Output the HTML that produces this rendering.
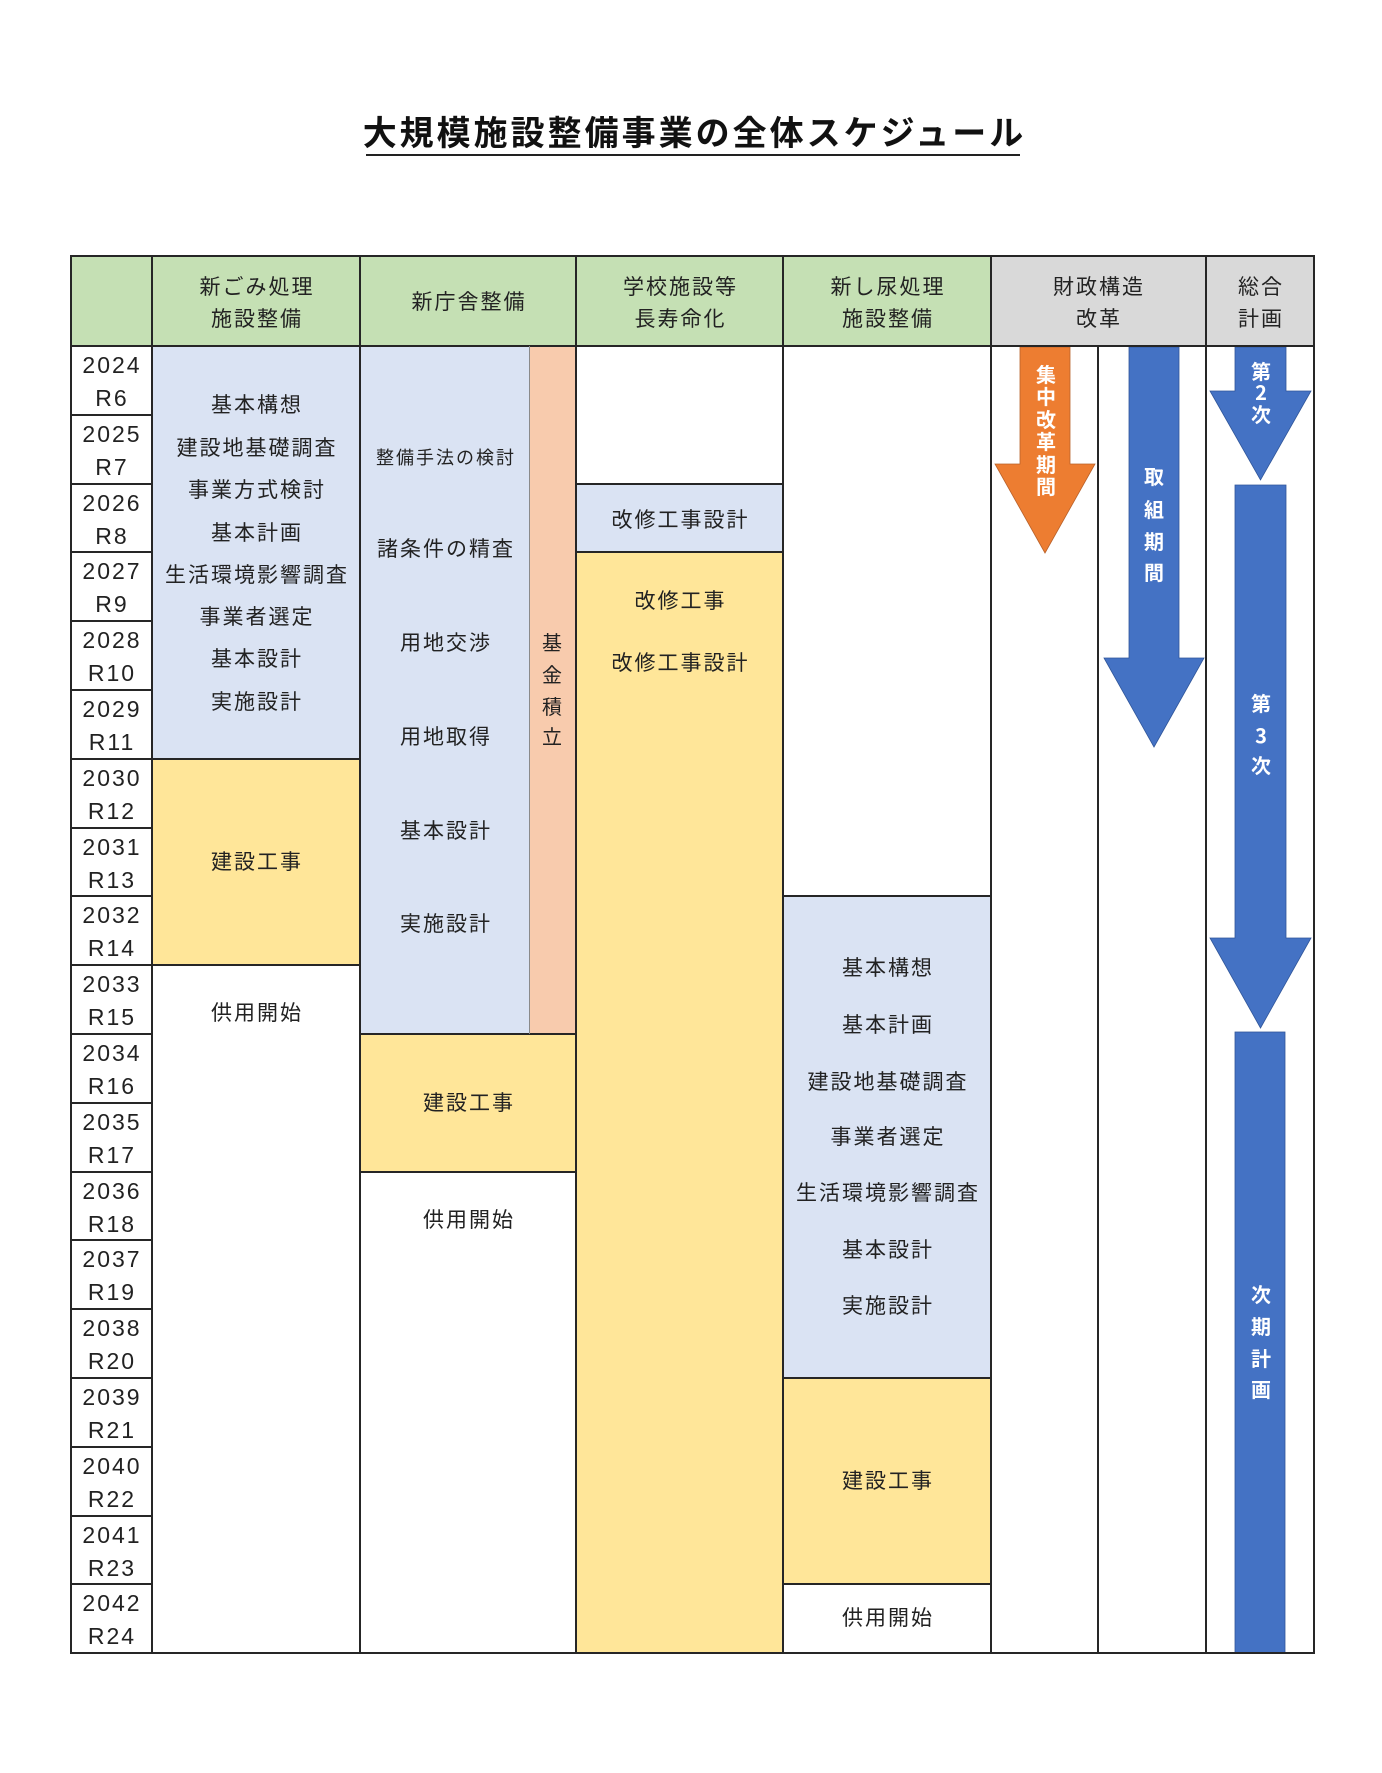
<!DOCTYPE html>
<html><head><meta charset="utf-8">
<style>
html,body{margin:0;padding:0;background:#fff;}
body{width:1382px;height:1773px;position:relative;overflow:hidden;font-family:"Liberation Sans","Noto Sans CJK JP",sans-serif;color:#222;}
.f{position:absolute;}
.h{position:absolute;height:2px;background:#262626;}
.v{position:absolute;width:2px;background:#262626;}
.t{position:absolute;height:30px;line-height:30px;text-align:center;white-space:nowrap;font-size:21px;letter-spacing:2px;padding-left:2px;box-sizing:border-box;font-family:"Noto Sans CJK JP",sans-serif;}
.y{position:absolute;left:71px;width:80px;height:30px;line-height:30px;text-align:center;font-size:23px;letter-spacing:2px;padding-left:2px;box-sizing:border-box;font-family:"Liberation Sans",sans-serif;color:#222;}
.c{position:absolute;width:30px;height:30px;line-height:30px;text-align:center;font-size:20px;font-family:"Noto Sans CJK JP",sans-serif;}
.w{color:#fff;font-weight:bold;}
</style></head><body>

<!-- Title -->
<div class="t" style="left:346px;width:694px;top:109px;height:44px;line-height:44px;font-size:34px;letter-spacing:3px;padding-left:3px;font-weight:bold;color:#111;">大規模施設整備事業の全体スケジュール</div>
<div class="f" style="left:366px;top:154px;width:654px;height:2px;background:#222;"></div>

<!-- Header fills -->
<div class="f" style="left:70px;top:256px;width:921px;height:90px;background:#c5e0b4;"></div>
<div class="f" style="left:991px;top:256px;width:323px;height:90px;background:#d9d9d9;"></div>

<!-- Body fills -->
<div class="f" style="left:152px;top:346px;width:208px;height:413px;background:#dae3f3;"></div>
<div class="f" style="left:152px;top:759px;width:208px;height:206px;background:#ffe699;"></div>
<div class="f" style="left:360px;top:346px;width:170px;height:688px;background:#dae3f3;"></div>
<div class="f" style="left:530px;top:346px;width:46px;height:688px;background:#f8cbad;"></div>
<div class="f" style="left:360px;top:1034px;width:216px;height:138px;background:#ffe699;"></div>
<div class="f" style="left:576px;top:484px;width:207px;height:68px;background:#dae3f3;"></div>
<div class="f" style="left:576px;top:552px;width:207px;height:1101px;background:#ffe699;"></div>
<div class="f" style="left:783px;top:896px;width:208px;height:482px;background:#dae3f3;"></div>
<div class="f" style="left:783px;top:1378px;width:208px;height:206px;background:#ffe699;"></div>

<!-- Arrows -->
<svg class="f" style="left:0;top:0;" width="1382" height="1773" viewBox="0 0 1382 1773">
<polygon points="1020,347 1070,347 1070,464 1095,464 1045,553 995,464 1020,464" fill="#ed7d31" stroke="#b8612a" stroke-width="0.8"/>
<polygon points="1129,347 1179,347 1179,658 1204,658 1154,747 1104,658 1129,658" fill="#4472c4" stroke="#30569a" stroke-width="0.8"/>
<polygon points="1235,347 1286,347 1286,391 1311,391 1260.5,480 1210,391 1235,391" fill="#4472c4" stroke="#30569a" stroke-width="0.8"/>
<polygon points="1235,485 1286,485 1286,938 1311,938 1260.5,1028 1210,938 1235,938" fill="#4472c4" stroke="#30569a" stroke-width="0.8"/>
<rect x="1235" y="1032" width="50" height="621" fill="#4472c4" stroke="#30569a" stroke-width="0.8"/>
</svg>

<!-- Lines: outer / header -->
<div class="h" style="left:70px;top:255px;width:1245px;"></div>
<div class="h" style="left:70px;top:345px;width:1245px;"></div>
<div class="h" style="left:70px;top:1652px;width:1245px;"></div>
<div class="v" style="left:69.5px;top:255px;height:1399px;"></div>
<div class="v" style="left:150.6px;top:255px;height:1399px;"></div>
<div class="v" style="left:358.6px;top:255px;height:1399px;"></div>
<div class="v" style="left:574.6px;top:255px;height:1399px;"></div>
<div class="v" style="left:781.6px;top:255px;height:1399px;"></div>
<div class="v" style="left:989.6px;top:255px;height:1399px;"></div>
<div class="v" style="left:1097px;top:346px;height:1307px;width:1.5px;"></div>
<div class="v" style="left:1204.7px;top:255px;height:1399px;"></div>
<div class="v" style="left:1313px;top:255px;height:1399px;"></div>

<!-- year row lines -->
<div class="h" style="left:70px;top:413.8px;width:82px;"></div>
<div class="h" style="left:70px;top:482.6px;width:82px;"></div>
<div class="h" style="left:70px;top:551.4px;width:82px;"></div>
<div class="h" style="left:70px;top:620.2px;width:82px;"></div>
<div class="h" style="left:70px;top:689px;width:82px;"></div>
<div class="h" style="left:70px;top:757.8px;width:82px;"></div>
<div class="h" style="left:70px;top:826.6px;width:82px;"></div>
<div class="h" style="left:70px;top:895.4px;width:82px;"></div>
<div class="h" style="left:70px;top:964.2px;width:82px;"></div>
<div class="h" style="left:70px;top:1033px;width:82px;"></div>
<div class="h" style="left:70px;top:1101.8px;width:82px;"></div>
<div class="h" style="left:70px;top:1170.6px;width:82px;"></div>
<div class="h" style="left:70px;top:1239.4px;width:82px;"></div>
<div class="h" style="left:70px;top:1308.2px;width:82px;"></div>
<div class="h" style="left:70px;top:1377px;width:82px;"></div>
<div class="h" style="left:70px;top:1445.8px;width:82px;"></div>
<div class="h" style="left:70px;top:1514.6px;width:82px;"></div>
<div class="h" style="left:70px;top:1583.4px;width:82px;"></div>

<!-- block lines -->
<div class="h" style="left:151px;top:757.8px;width:209px;"></div>
<div class="h" style="left:151px;top:964.2px;width:209px;"></div>
<div class="h" style="left:359px;top:1033px;width:217px;"></div>
<div class="h" style="left:359px;top:1170.6px;width:217px;"></div>
<div class="f" style="left:528.5px;top:346px;width:1.5px;height:688px;background:#8a8a8a;"></div>
<div class="h" style="left:575px;top:482.6px;width:208px;"></div>
<div class="h" style="left:575px;top:551.4px;width:208px;"></div>
<div class="h" style="left:782px;top:895.4px;width:209px;"></div>
<div class="h" style="left:782px;top:1377px;width:209px;"></div>
<div class="h" style="left:782px;top:1583.4px;width:209px;"></div>

<!-- Header text -->
<div class="t" style="left:152px;width:208px;top:271px;">新ごみ処理</div>
<div class="t" style="left:152px;width:208px;top:303px;">施設整備</div>
<div class="t" style="left:360px;width:216px;top:286px;">新庁舎整備</div>
<div class="t" style="left:576px;width:207px;top:271px;">学校施設等</div>
<div class="t" style="left:576px;width:207px;top:303px;">長寿命化</div>
<div class="t" style="left:783px;width:208px;top:271px;">新し尿処理</div>
<div class="t" style="left:783px;width:208px;top:303px;">施設整備</div>
<div class="t" style="left:991px;width:214px;top:271px;">財政構造</div>
<div class="t" style="left:991px;width:214px;top:303px;">改革</div>
<div class="t" style="left:1206px;width:108px;top:271px;">総合</div>
<div class="t" style="left:1206px;width:108px;top:303px;">計画</div>

<!-- Years -->
<div class="y" style="top:350px;">2024</div><div class="y" style="top:383px;">R6</div>
<div class="y" style="top:418.8px;">2025</div><div class="y" style="top:451.8px;">R7</div>
<div class="y" style="top:487.6px;">2026</div><div class="y" style="top:520.6px;">R8</div>
<div class="y" style="top:556.4px;">2027</div><div class="y" style="top:589.4px;">R9</div>
<div class="y" style="top:625.2px;">2028</div><div class="y" style="top:658.2px;">R10</div>
<div class="y" style="top:694px;">2029</div><div class="y" style="top:727px;">R11</div>
<div class="y" style="top:762.8px;">2030</div><div class="y" style="top:795.8px;">R12</div>
<div class="y" style="top:831.6px;">2031</div><div class="y" style="top:864.6px;">R13</div>
<div class="y" style="top:900.4px;">2032</div><div class="y" style="top:933.4px;">R14</div>
<div class="y" style="top:969.2px;">2033</div><div class="y" style="top:1002.2px;">R15</div>
<div class="y" style="top:1038px;">2034</div><div class="y" style="top:1071px;">R16</div>
<div class="y" style="top:1106.8px;">2035</div><div class="y" style="top:1139.8px;">R17</div>
<div class="y" style="top:1175.6px;">2036</div><div class="y" style="top:1208.6px;">R18</div>
<div class="y" style="top:1244.4px;">2037</div><div class="y" style="top:1277.4px;">R19</div>
<div class="y" style="top:1313.2px;">2038</div><div class="y" style="top:1346.2px;">R20</div>
<div class="y" style="top:1382px;">2039</div><div class="y" style="top:1415px;">R21</div>
<div class="y" style="top:1450.8px;">2040</div><div class="y" style="top:1483.8px;">R22</div>
<div class="y" style="top:1519.6px;">2041</div><div class="y" style="top:1552.6px;">R23</div>
<div class="y" style="top:1588.4px;">2042</div><div class="y" style="top:1621.4px;">R24</div>

<!-- Column 1 -->
<div class="t" style="left:152px;width:208px;top:389px;">基本構想</div>
<div class="t" style="left:152px;width:208px;top:432px;">建設地基礎調査</div>
<div class="t" style="left:152px;width:208px;top:474px;">事業方式検討</div>
<div class="t" style="left:152px;width:208px;top:516.5px;">基本計画</div>
<div class="t" style="left:152px;width:208px;top:559px;">生活環境影響調査</div>
<div class="t" style="left:152px;width:208px;top:601px;">事業者選定</div>
<div class="t" style="left:152px;width:208px;top:643px;">基本設計</div>
<div class="t" style="left:152px;width:208px;top:685.5px;">実施設計</div>
<div class="t" style="left:152px;width:208px;top:845.5px;">建設工事</div>
<div class="t" style="left:152px;width:208px;top:997px;">供用開始</div>

<!-- Column 2 -->
<div class="t" style="left:360px;width:170px;top:442px;font-size:18px;">整備手法の検討</div>
<div class="t" style="left:360px;width:170px;top:533px;">諸条件の精査</div>
<div class="t" style="left:360px;width:170px;top:627px;">用地交渉</div>
<div class="t" style="left:360px;width:170px;top:720.5px;">用地取得</div>
<div class="t" style="left:360px;width:170px;top:815px;">基本設計</div>
<div class="t" style="left:360px;width:170px;top:908px;">実施設計</div>
<div class="c" style="left:537px;top:627px;">基</div>
<div class="c" style="left:537px;top:659px;">金</div>
<div class="c" style="left:537px;top:690.5px;">積</div>
<div class="c" style="left:537px;top:720.5px;">立</div>
<div class="t" style="left:360px;width:216px;top:1087px;">建設工事</div>
<div class="t" style="left:360px;width:216px;top:1204px;">供用開始</div>

<!-- Column 3 -->
<div class="t" style="left:576px;width:207px;top:504px;">改修工事設計</div>
<div class="t" style="left:576px;width:207px;top:584.5px;">改修工事</div>
<div class="t" style="left:576px;width:207px;top:647px;">改修工事設計</div>

<!-- Column 4 -->
<div class="t" style="left:783px;width:208px;top:952px;">基本構想</div>
<div class="t" style="left:783px;width:208px;top:1009px;">基本計画</div>
<div class="t" style="left:783px;width:208px;top:1065.5px;">建設地基礎調査</div>
<div class="t" style="left:783px;width:208px;top:1121px;">事業者選定</div>
<div class="t" style="left:783px;width:208px;top:1177px;">生活環境影響調査</div>
<div class="t" style="left:783px;width:208px;top:1234px;">基本設計</div>
<div class="t" style="left:783px;width:208px;top:1290px;">実施設計</div>
<div class="t" style="left:783px;width:208px;top:1464.5px;">建設工事</div>
<div class="t" style="left:783px;width:208px;top:1601.5px;">供用開始</div>

<!-- Arrow texts -->
<div class="c w" style="left:1031px;top:359px;">集</div>
<div class="c w" style="left:1031px;top:381px;">中</div>
<div class="c w" style="left:1031px;top:404px;">改</div>
<div class="c w" style="left:1031px;top:426px;">革</div>
<div class="c w" style="left:1031px;top:449px;">期</div>
<div class="c w" style="left:1031px;top:471px;">間</div>

<div class="c w" style="left:1139px;top:461px;">取</div>
<div class="c w" style="left:1139px;top:494px;">組</div>
<div class="c w" style="left:1139px;top:526px;">期</div>
<div class="c w" style="left:1139px;top:557px;">間</div>

<div class="c w" style="left:1246px;top:356px;">第</div>
<div class="c w" style="left:1246px;top:377px;">2</div>
<div class="c w" style="left:1246px;top:399px;">次</div>

<div class="c w" style="left:1246px;top:688px;">第</div>
<div class="c w" style="left:1246px;top:719.5px;">3</div>
<div class="c w" style="left:1246px;top:750px;">次</div>

<div class="c w" style="left:1246px;top:1279px;">次</div>
<div class="c w" style="left:1246px;top:1311px;">期</div>
<div class="c w" style="left:1246px;top:1343px;">計</div>
<div class="c w" style="left:1246px;top:1374px;">画</div>

</body></html>
